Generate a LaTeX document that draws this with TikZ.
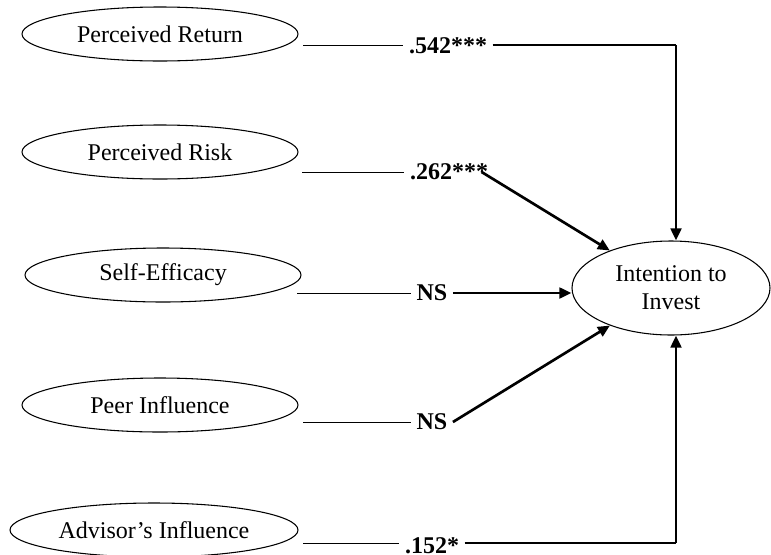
\documentclass[tikz,border=0pt]{standalone}
\usepackage{fontspec}
\setmainfont{Liberation Serif}
\usetikzlibrary{calc}
\usetikzlibrary{shapes.geometric}
\usetikzlibrary{arrows.meta,positioning}

\tikzset{
  construct/.style={ellipse,draw=black,line width=0.8pt,minimum width=207pt,minimum height=40.5pt,inner sep=0pt,font=\fontsize{18}{21}\selectfont},
  coef/.style={inner sep=4pt,font=\fontsize{18}{21}\selectfont\bfseries},
  thinline/.style={line width=0.75pt},
  pathline/.style={line width=1.5pt},
  patharrow/.style={line width=2pt,-{Triangle[length=9pt,width=8pt]}}
}

\begin{document}
\begin{tikzpicture}[x=0.75pt,y=-0.75pt]

\useasboundingbox (0,0) rectangle (771,554);
\coordinate (ORIGIN) at (0,0);

%draw the constructs
\node[construct] at ($(ORIGIN)+(160,34)$) (RETURN) {Perceived Return};
\node[construct] at ($(ORIGIN)+(160,152)$) (RISK) {Perceived Risk};
\node[construct] at ($(ORIGIN)+(163,275)$) (EFFICACY) {Self-Efficacy};
\node[construct] at ($(ORIGIN)+(160,405)$) (PEER) {Peer Influence};
\node[construct,minimum width=216pt] at ($(ORIGIN)+(154,530)$) (ADVISOR) {Advisor's Influence};

%%%%%%%

%draw intention
\node[construct,minimum width=148.5pt,minimum height=70.5pt,align=center] at ($(ORIGIN)+(671,288)$) (INTENTION) {Intention to\\Invest};

%path coefficients
\node[coef] at ($(ORIGIN)+(448,46)$) (cret) {.542***};
\node[coef] at ($(ORIGIN)+(449,172)$) (crisk) {.262***};
\node[coef] at ($(ORIGIN)+(432,293)$) (ceff) {NS};
\node[coef] at ($(ORIGIN)+(432,422)$) (cpeer) {NS};
\node[coef] at ($(ORIGIN)+(432,546)$) (cadv) {.152*};

\coordinate (retout) at ($(ORIGIN)+(303,45)$);
\coordinate (retcorner) at ($(ORIGIN)+(676,45)$);
\coordinate (riskout) at ($(ORIGIN)+(302,172)$);
\coordinate (effout) at ($(ORIGIN)+(297,293)$);
\coordinate (peerout) at ($(ORIGIN)+(303,422)$);
\coordinate (advout) at ($(ORIGIN)+(303,543)$);
\coordinate (advcorner) at ($(ORIGIN)+(676,543)$);

% lines into the coefficients
\draw[thinline] (retout) -- (retout -| cret.west);
\draw[thinline] (riskout) -- (riskout -| crisk.west);
\draw[thinline] (effout) -- (effout -| ceff.west);
\draw[thinline] (peerout) -- (peerout -| cpeer.west);
\draw[thinline] (advout) -- (advout -| cadv.west);

% arrows to intention
\draw[pathline] (cret.east |- retcorner) -- (retcorner);
\draw[patharrow] (retcorner) -- (retcorner |- INTENTION.north);
\draw[patharrow] ($(crisk.east)+(-12,0)$) -- (INTENTION);
\draw[patharrow] (ceff.east |- effout) -- (effout -| INTENTION.west);
\draw[patharrow] (cpeer.east |- peerout) -- (INTENTION);
\draw[pathline] (cadv.east |- advcorner) -- (advcorner);
\draw[patharrow] (advcorner) -- (advcorner |- INTENTION.south);

\end{tikzpicture}
\end{document}
